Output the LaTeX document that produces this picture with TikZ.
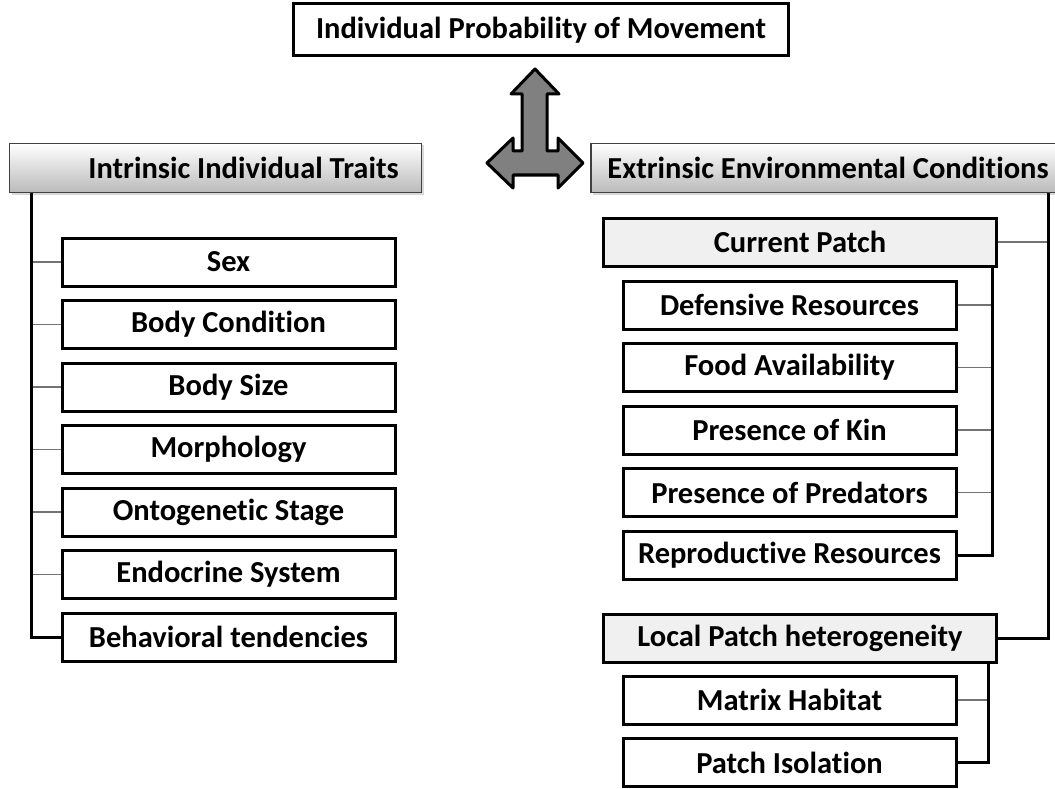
\documentclass[tikz,border=0pt]{standalone}
\usepackage{fontspec}
\setmainfont{Carlito}[Ligatures=NoCommon]
\usetikzlibrary{positioning,shadows}

\newcommand{\boxfont}{\fontsize{30.5}{32}\selectfont\bfseries}

\begin{document}
\begin{tikzpicture}[
    x=1pt,y=-1pt,
    node distance=11.5pt,
    item/.style={rectangle,draw=black,line width=3pt,fill=white,minimum width=333pt,minimum height=48pt,inner sep=0pt,font=\boxfont,
      drop shadow={shadow xshift=1.5pt,shadow yshift=-1.5pt,opacity=0.25}},
    group/.style={item,fill=black!6,minimum width=393pt},
    header/.style={rectangle,draw=black!75,line width=1.3pt,top color=white,bottom color=black!27,minimum height=49pt,inner sep=0pt,font=\boxfont,
      drop shadow={shadow xshift=2pt,shadow yshift=-2pt,opacity=0.3}},
    spine/.style={line width=3pt,black},
    tick/.style={line width=1.5pt,black!55},
    bigarrow/.style={fill=black!50,draw=black,line width=3pt,line join=round}
]
\useasboundingbox (0,0) rectangle (1055,789);

% top
\node[item,minimum width=495pt,minimum height=52pt] (move) at (541,30) {Individual Probability of Movement};

% three-way arrow
\draw[bigarrow] (535,69) -- (559,94) -- (547,94) -- (547,151) -- (558,151) -- (558,138) -- (583,163)
  -- (558,188) -- (558,175) -- (513,175) -- (513,188) -- (487,163) -- (513,138) -- (513,151)
  -- (522,151) -- (522,94) -- (511,94) -- cycle;

% intrinsic traits
\node[header,minimum width=412pt] (intr) at (215.5,168) {\hspace*{56pt}Intrinsic Individual Traits};
\node[item] (sex) at (228.5,262) {Sex};
\node[item,below=of sex] (cond) {Body Condition};
\node[item,below=of cond] (size) {Body Size};
\node[item,below=of size] (morph) {Morphology};
\node[item,below=of morph] (onto) {Ontogenetic Stage};
\node[item,below=of onto] (endo) {Endocrine System};
\node[item,below=of endo] (behav) {Behavioral tendencies};

\coordinate (lspine) at (31,193);
\foreach \n in {sex,cond,size,morph,onto,endo}
  \draw[tick] (\n.west) -- (\n.west -| lspine);
\draw[spine] (lspine) |- (behav.west);

% extrinsic conditions
\node[header,minimum width=474pt] (extr) at (828,168) {Extrinsic Environmental Conditions};
\node[group] (cur) at (800,242) {Current Patch};
\node[item] (def) at (789.5,305) {Defensive Resources};
\node[item,below=of def] (food) {Food Availability};
\node[item,below=of food] (kin) {Presence of Kin};
\node[item,below=of kin] (pred) {Presence of Predators};
\node[item,below=of pred] (repro) {Reproductive Resources};
\node[group] (local) at (800,638) {Local Patch heterogeneity};
\node[item] (matrix) at (789.5,700) {Matrix Habitat};
\node[item,below=of matrix] (iso) {Patch Isolation};

\coordinate (rspine) at (1048,193);
\coordinate (cspine) at (992,268);
\coordinate (hspine) at (988,664);
\draw[tick] (cur.east) -- (cur.east -| rspine);
\draw[spine] (rspine) |- (local.east);
\foreach \n in {def,food,kin,pred}
  \draw[tick] (\n.east) -- (\n.east -| cspine);
\draw[spine] (cspine) |- (repro.east);
\draw[tick] (matrix.east) -- (matrix.east -| hspine);
\draw[spine] (hspine) |- (iso.east);

\end{tikzpicture}
\end{document}
